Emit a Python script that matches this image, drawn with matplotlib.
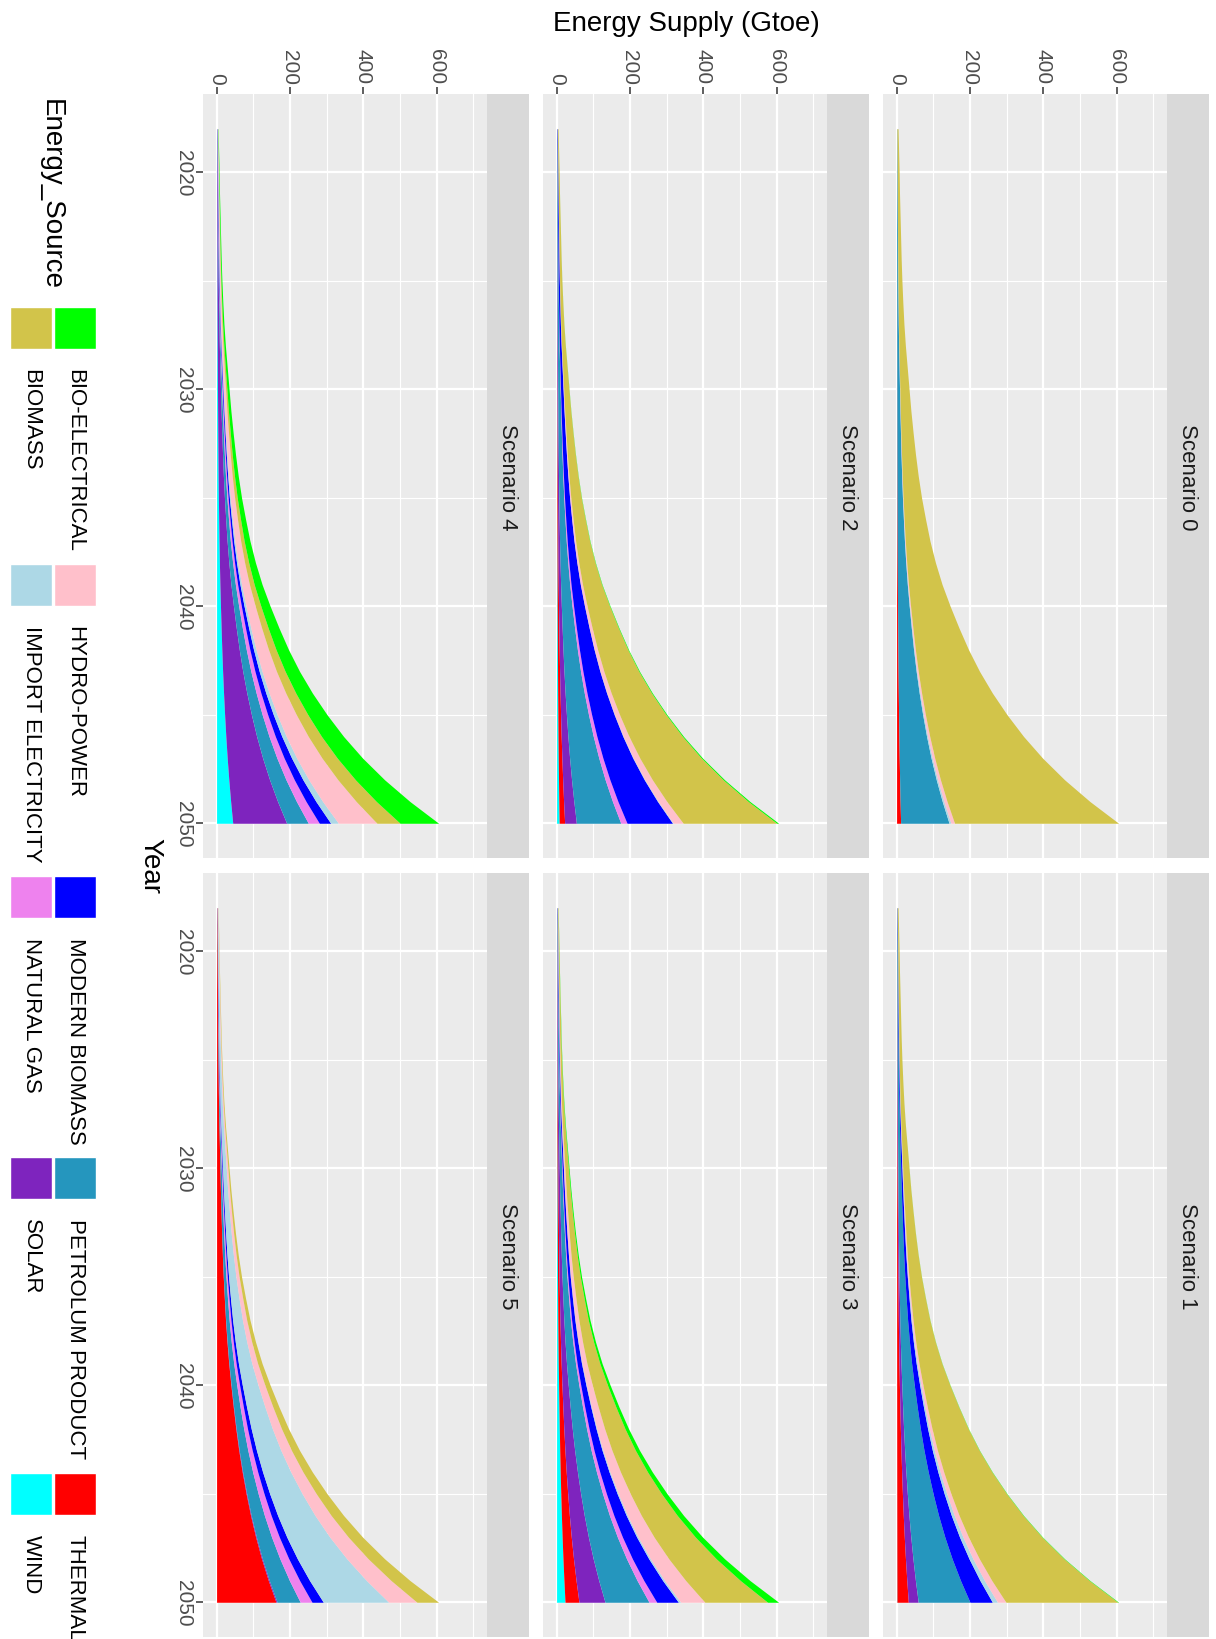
import numpy as np
import matplotlib
matplotlib.use('Agg')
import matplotlib.pyplot as plt
from matplotlib.patches import Rectangle

plt.rcParams['font.family'] = ['Liberation Sans', 'DejaVu Sans']

# yearly total supply (Gtoe), same path in every scenario
years = list(range(2018, 2051))
total_supply = [4, 5.5, 7, 8, 9.5, 11, 12.5, 14.5, 17, 20, 24, 29, 34, 39, 45,
                51.5, 59, 68, 79, 91, 106, 124, 146, 170, 196, 226, 261, 301,
                346, 398, 458, 527, 605]

sources = ['BIO-ELECTRICAL', 'BIOMASS', 'HYDRO-POWER', 'IMPORT ELECTRICITY',
           'MODERN BIOMASS', 'NATURAL GAS', 'PETROLUM PRODUCT', 'SOLAR',
           'THERMAL', 'WIND']
colors = ['#00FF00', '#D2C44A', '#FFC0CB', '#ADD8E6', '#0000FF', '#EE82EE',
          '#2596BE', '#7E24BE', '#FF0000', '#00FFFF']

# supply by source in 2050, same order as sources
mix_2050 = {
    'Scenario 0': [0, 447, 10, 5, 0, 0, 132, 0, 11, 0],
    'Scenario 1': [2, 305, 23, 14, 61, 0, 141, 27, 31, 1],
    'Scenario 2': [5, 255, 27, 2, 124, 17, 121, 32, 15, 7],
    'Scenario 3': [30, 171, 66, 6, 59, 21, 120, 71, 38, 23],
    'Scenario 4': [105, 63, 105, 21, 31, 30, 59, 147, 0, 44],
    'Scenario 5': [0, 59, 77, 178, 31, 32, 63, 3, 162, 0],
}

W, H = 1216, 1640


def box(x, y, w, h):
    # pixel box (top-left origin) -> figure fraction
    return [x / W, 1 - (y + h) / H, w / W, h / H]


fig = plt.figure(figsize=(W / 100, H / 100), dpi=100)

pw, ph = 283.7, 764
strip_w = 42
col_x = {'Scenario 0': 883, 'Scenario 1': 883, 'Scenario 2': 543,
         'Scenario 3': 543, 'Scenario 4': 203, 'Scenario 5': 203}
row_y = {'Scenario 0': 95, 'Scenario 2': 95, 'Scenario 4': 95,
         'Scenario 1': 874, 'Scenario 3': 874, 'Scenario 5': 874}

yrs = np.array(years)
tot = np.array(total_supply, dtype=float)

for name, mix in mix_2050.items():
    x0, y0 = col_x[name], row_y[name]
    ax = fig.add_axes(box(x0, y0, pw, ph))
    ax.set_facecolor('#EBEBEB')
    for s in ax.spines.values():
        s.set_visible(False)

    # stacked areas, last source sits on the zero line
    lower = np.zeros(len(yrs))
    for k in range(len(sources) - 1, -1, -1):
        vals = mix[k] * tot / tot[-1]
        if mix[k] > 0:
            ax.fill_betweenx(yrs, lower, lower + vals, color=colors[k], lw=0)
        lower = lower + vals

    ax.set_xlim(-37, 736)
    ax.set_ylim(2051.6, 2016.4)
    ax.set_xticks([0, 200, 400, 600])
    ax.set_xticks([100, 300, 500, 700], minor=True)
    ax.set_yticks([2020, 2030, 2040, 2050])
    ax.set_yticks([2025, 2035, 2045], minor=True)
    ax.set_axisbelow(True)
    ax.grid(which='major', color='white', lw=1.6)
    ax.grid(which='minor', color='white', lw=0.8)

    ax.xaxis.tick_top()
    ax.tick_params(which='minor', length=0)
    ax.tick_params(which='major', length=5, width=1.1, color='#333333',
                   labelsize=15, labelcolor='#4D4D4D', pad=2.5)
    top_row = y0 == 95
    left_col = x0 == 203
    ax.tick_params(axis='x', top=top_row, labeltop=top_row,
                   bottom=False, labelbottom=False, labelrotation=-90)
    ax.tick_params(axis='y', left=left_col, labelleft=left_col,
                   labelrotation=-90)
    for lab in ax.get_yticklabels():
        lab.set_va('center')

    # facet strip
    fig.add_artist(Rectangle(((x0 + pw) / W, 1 - (y0 + ph) / H), strip_w / W, ph / H,
                             transform=fig.transFigure, facecolor='#D9D9D9',
                             edgecolor='none'))
    fig.text((x0 + pw + strip_w / 2) / W, 1 - (y0 + ph / 2) / H, name,
             rotation=-90, ha='center', va='center', fontsize=16,
             color='#1A1A1A')

# axis titles
fig.text(686 / W, 1 - 24 / H, 'Energy Supply (Gtoe)', ha='center',
         va='center', fontsize=20)
fig.text(150 / W, 1 - 866 / H, 'Year', rotation=-90, ha='center',
         va='center', fontsize=20)

# legend
fig.text(51 / W, 1 - 99 / H, 'Energy_Source', rotation=-90, ha='center',
         va='top', fontsize=20)
key_y = [308, 565, 877, 1158, 1474]
key_x = [54, 10]
ks = 42
for k, (src, c) in enumerate(zip(sources, colors)):
    kx = key_x[k % 2]
    ky = key_y[k // 2]
    fig.add_artist(Rectangle((kx / W, 1 - (ky + ks) / H), ks / W, ks / H,
                             transform=fig.transFigure, facecolor=c,
                             edgecolor='white', lw=1))
    fig.text((kx + ks / 2) / W, 1 - (ky + ks + 19) / H, src, rotation=-90,
             ha='center', va='top', fontsize=16)

fig.savefig('out.png', dpi=100, facecolor='white')
